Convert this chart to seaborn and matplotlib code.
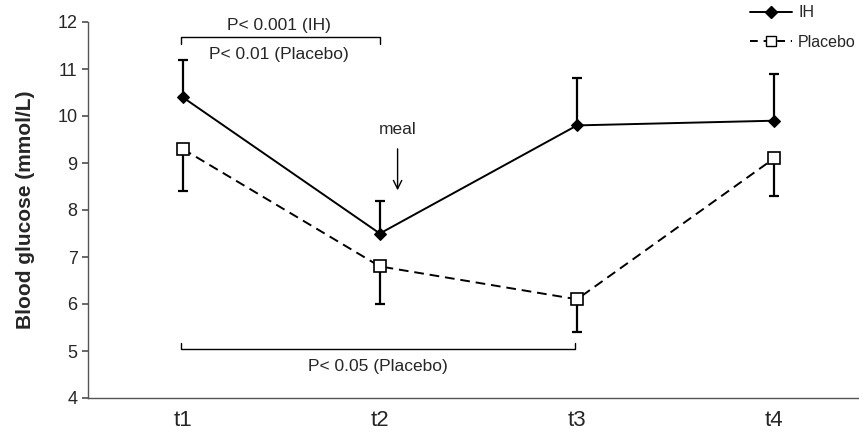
import matplotlib
matplotlib.use("Agg")
import matplotlib.pyplot as plt
import numpy as np
import pandas as pd
import seaborn as sns
from matplotlib.lines import Line2D

times = ["t1", "t2", "t3", "t4"]
ih_mean = [10.4, 7.5, 9.8, 9.9]
ih_err = [0.8, 0.7, 1.0, 1.0]
placebo_mean = [9.3, 6.8, 6.1, 9.1]
placebo_err = [0.9, 0.8, 0.7, 0.8]

sns.set_theme(style="ticks")
plt.rcParams['font.family'] = ['Liberation Sans', 'DejaVu Sans']

df = pd.DataFrame({
    "time": list(range(4)) * 2,
    "glucose": ih_mean + placebo_mean,
    "group": ["IH"] * 4 + ["Placebo"] * 4,
})

fig = plt.figure(figsize=(8.59, 4.33), dpi=100)
ax = fig.add_axes([88 / 859, 35 / 433, 1 - 88 / 859, 376 / 433])

x = np.arange(4)
# one-sided error bars: IH up, placebo down
ax.errorbar(x, ih_mean, yerr=[np.zeros(4), ih_err], fmt="none", ecolor="black",
            elinewidth=1.6, capsize=3.5, capthick=1.6, zorder=2)
ax.errorbar(x, placebo_mean, yerr=[placebo_err, np.zeros(4)], fmt="none", ecolor="black",
            elinewidth=1.6, capsize=3.5, capthick=1.6, zorder=2)

sns.lineplot(data=df, x="time", y="glucose", hue="group", style="group",
             palette={"IH": "black", "Placebo": "black"},
             dashes={"IH": "", "Placebo": (5, 3)},
             markers={"IH": "D", "Placebo": "s"}, markersize=7, linewidth=1.4,
             ax=ax, legend=False, zorder=3)
for ln in ax.get_lines():
    if ln.get_marker() == "s":
        ln.set_markerfacecolor("white")
        ln.set_markeredgecolor("black")
        ln.set_markeredgewidth(1.2)
        ln.set_markersize(8)
    elif ln.get_marker() == "D":
        ln.set_markerfacecolor("black")
        ln.set_markeredgecolor("black")
        ln.set_markersize(6.5)

ax.set_ylim(4, 12)
ax.set_xlim(-0.48, 3.43)
ax.set_xticks(x)
ax.set_xticklabels(times, fontsize=16)
ax.set_yticks(range(4, 13))
ax.tick_params(axis="y", labelsize=13, length=4, color="#555555")
ax.tick_params(axis="x", length=0, pad=9)
ax.set_xlabel("")
ax.set_ylabel("Blood glucose (mmol/L)", fontsize=15, fontweight="bold", labelpad=16)
sns.despine(ax=ax, top=True, right=True)
for s in ["left", "bottom"]:
    ax.spines[s].set_color("#555555")
    ax.spines[s].set_linewidth(1.0)

# significance brackets
kw = dict(color="black", lw=1.0, clip_on=False)
ax.plot([-0.01, -0.01, 1.0, 1.0], [11.53, 11.68, 11.68, 11.53], **kw)
ax.text(0.49, 11.92, "P< 0.001 (IH)", ha="center", va="center", fontsize=12.5)
ax.text(0.49, 11.3, "P< 0.01 (Placebo)", ha="center", va="center", fontsize=12.5)
ax.plot([-0.01, -0.01, 1.99, 1.99], [5.17, 5.04, 5.04, 5.17], **kw)
ax.text(0.99, 4.68, "P< 0.05 (Placebo)", ha="center", va="center", fontsize=12.5)

# meal arrow
ax.text(1.09, 9.72, "meal", ha="center", va="center", fontsize=12.5)
ax.annotate("", xy=(1.09, 8.36), xytext=(1.09, 9.36),
            arrowprops=dict(arrowstyle="->", color="black", lw=1.0, mutation_scale=15))

# legend in the top right corner
h1 = Line2D([], [], color="black", lw=1.4, marker="D", markersize=6)
h2 = Line2D([], [], color="black", lw=1.4, ls=(0, (4, 3)), marker="s", markersize=7,
            markerfacecolor="white", markeredgecolor="black")
fig.legend([h1, h2], ["IH", "Placebo"], loc="upper right", bbox_to_anchor=(1.0, 0.995),
           frameon=False, fontsize=11.5, handlelength=2.6, handletextpad=0.4,
           labelspacing=0.9, borderaxespad=0.1, borderpad=0.1)

fig.savefig("out.png", dpi=100)
